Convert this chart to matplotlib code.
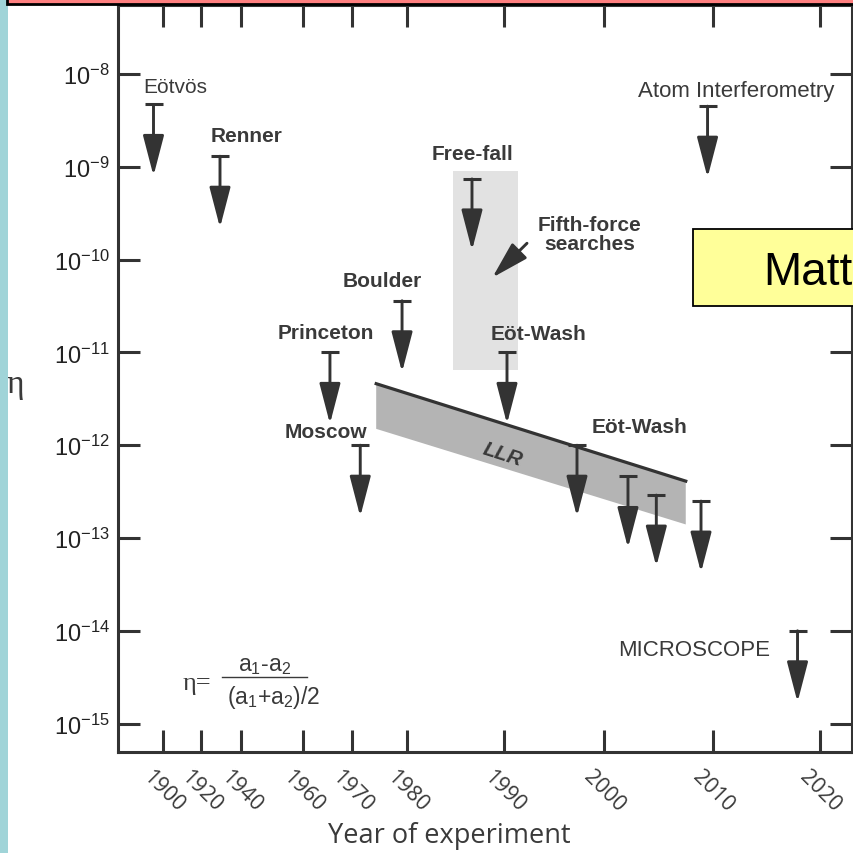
import numpy as np
import matplotlib
matplotlib.use('Agg')
import matplotlib.pyplot as plt
from matplotlib.patches import Rectangle
from matplotlib.lines import Line2D

plt.rcParams['font.family'] = ['Liberation Sans', 'DejaVu Sans']
plt.rcParams['mathtext.fontset'] = 'custom'
plt.rcParams['mathtext.rm'] = 'Liberation Sans'
plt.rcParams['mathtext.it'] = 'Liberation Sans:italic'
plt.rcParams['mathtext.bf'] = 'Liberation Sans:bold'

# tick years on the (non-linear) time axis
tick_years = [1900, 1920, 1940, 1960, 1970, 1980, 1990, 2000, 2010, 2020]
tick_labels = [str(y) for y in tick_years]
eta_ticks = [1e-8, 1e-9, 1e-10, 1e-11, 1e-12, 1e-13, 1e-14, 1e-15]
eta_tick_labels = [r'$\mathregular{10^{-%d}}$' % k for k in range(8, 16)]

# upper limits on eta (arrows)
limit_years = [1895, 1929.5, 1965.5, 1971.5, 1979.1, 1986.7, 1990.3,
               1997.3, 2002.2, 2004.8, 2008.9, 2009.5, 2017.9]
limit_eta = [4.7e-9, 1.3e-9, 1.0e-11, 1.0e-12, 3.6e-11, 7.4e-10, 1.0e-11,
             1.0e-12, 4.6e-13, 2.9e-13, 2.5e-13, 4.5e-9, 1.0e-14]

# lunar laser ranging band
llr_years = [1974.4, 2007.5]
llr_upper = [4.6e-12, 4.1e-13]
llr_lower = [1.5e-12, 1.4e-13]

# free-fall / fifth-force region
ff_years = [1984.7, 1991.4]
ff_eta = [8.9e-10, 6.4e-12]

# experiment names
names = ['Eötvös', 'Renner', 'Princeton', 'Moscow', 'Boulder', 'Free-fall',
         'Fifth-force\nsearches', 'Eöt-Wash', 'Eöt-Wash',
         'Atom Interferometry', 'MICROSCOPE']

# ---- layout helpers ----
W = 854.0
def fx(p):
    return p / W
def fy(p):
    return 1 - p / W

# year -> horizontal position of the printed axis
tick_px = [163, 201, 241, 303, 352, 407, 504, 604, 713, 820]
map_years = [1850] + tick_years + [2050]
map_px = [163 - 50 * 1.9] + tick_px + [820 + 30 * 10.7]

def fwd(y):
    return np.interp(y, map_years, map_px)
def inv(p):
    return np.interp(p, map_px, map_years)

fig = plt.figure(figsize=(8.54, 8.54), dpi=100)
ax = fig.add_axes([fx(118), fy(753), fx(852) - fx(118), fy(6) - fy(753)])
ax.set_xscale('function', functions=(fwd, inv))
ax.set_yscale('log')
ax.set_xlim(inv(118), inv(852))
dec = 92.8
ax.set_ylim(10 ** (-8 - (753 - 75) / dec), 10 ** (-8 + (75 - 6) / dec))

dark = '#333333'
txt = '#3a3a3a'

# free-fall band
ax.fill([ff_years[0], ff_years[1], ff_years[1], ff_years[0]],
        [ff_eta[0], ff_eta[0], ff_eta[1], ff_eta[1]],
        color='#e2e2e2', lw=0, zorder=1)

# LLR band
ax.fill([llr_years[0], llr_years[1], llr_years[1], llr_years[0]],
        [llr_upper[0], llr_upper[1], llr_lower[1], llr_lower[0]],
        color='#b4b4b4', lw=0, zorder=2)
ax.plot(llr_years, llr_upper, color=dark, lw=2.3, zorder=3)

# arrows (upper limits)
drop = 10 ** -0.77
for x, v in zip(limit_years, limit_eta):
    ax.annotate('', xy=(x, v * drop), xytext=(x, v),
                arrowprops=dict(arrowstyle='-|>,head_length=2.5,head_width=0.65',
                                mutation_scale=10, lw=2.1, color=dark,
                                shrinkA=0, shrinkB=0), zorder=4)
ax.plot(limit_years, limit_eta, ls='none', marker='_', ms=13, mew=2.2,
        color=dark, zorder=4)

# fifth-force pointer
ax.annotate('', xy=(1988.8, 6.4e-11), xytext=(1992.3, 1.5e-10),
            arrowprops=dict(arrowstyle='-|>,head_length=2.3,head_width=0.65',
                            mutation_scale=10, lw=2.1, color=dark,
                            shrinkA=0, shrinkB=0), zorder=4)

# labels
bold = dict(color=txt, fontsize=15, fontweight='bold', va='center')
ax.text(1889.5, 7.4e-9, names[0], ha='left', color=txt, fontsize=15, va='center')
ax.text(1925, 2.2e-9, names[1], ha='left', **bold)
ax.text(1964.7, 1.65e-11, names[2], ha='center', **bold)
ax.text(1964.7, 1.4e-12, names[3], ha='center', **bold)
ax.text(1975.5, 5.9e-11, names[4], ha='center', **bold)
ax.text(1986.8, 1.4e-9, names[5], ha='center', **bold)
ax.text(1998.6, 1.9e-10, names[6], ha='center', linespacing=1.0, **bold)
ax.text(1993.4, 1.6e-11, names[7], ha='center', **bold)
ax.text(2003.3, 1.6e-12, names[8], ha='center', **bold)
ax.text(2012.2, 6.6e-9, names[9], ha='center', color=txt, fontsize=16, va='center')
ax.text(2008.3, 6.3e-15, names[10], ha='center', color=txt, fontsize=16, va='center')
ax.text(1989.9, 8.0e-13, 'LLR', ha='center', va='center', rotation=-17.7,
        fontsize=15, fontweight='bold', fontstyle='italic', color=txt, zorder=5)

# axes styling
for s in ax.spines.values():
    s.set_linewidth(2.2)
    s.set_color(dark)
ax.set_xticks(tick_years)
ax.set_xticklabels(tick_labels, rotation=-45, ha='center',
                   fontfamily='Open Sans', fontsize=15.5, color=txt)
ax.set_yticks(eta_ticks)
ax.set_yticklabels(eta_tick_labels, fontsize=17, color='#222222')
ax.yaxis.set_minor_locator(matplotlib.ticker.NullLocator())
ax.xaxis.set_minor_locator(matplotlib.ticker.NullLocator())
ax.tick_params(axis='both', which='major', direction='in', length=16, width=2.2,
               color=dark, top=True, right=True)
ax.tick_params(axis='y', pad=6)
ax.tick_params(axis='x', pad=10)

# formula
fig.text(fx(197), fy(684), 'η=', fontfamily='Liberation Serif', fontsize=19,
         ha='center', va='center', color=txt)
fig.text(fx(265), fy(666), r'a$\mathregular{_1}$-a$\mathregular{_2}$', fontsize=16.5,
         ha='center', va='center', color=txt)
fig.add_artist(Line2D([fx(222), fx(307)], [fy(678), fy(678)], color=txt, lw=1,
                      transform=fig.transFigure))
fig.text(fx(274), fy(698), r'(a$\mathregular{_1}$+a$\mathregular{_2}$)/2', fontsize=16.5,
         ha='center', va='center', color=txt)

# axis titles
fig.text(fx(15), fy(385), 'η', fontfamily='Liberation Serif', fontsize=24,
         ha='center', va='center', color=txt)
fig.text(fx(449), fy(836), 'Year of experiment', fontfamily='Open Sans', fontsize=19.5,
         ha='center', va='center', color=txt)

# slide decorations
fig.add_artist(Rectangle((0, 0), fx(8), 1, transform=fig.transFigure,
                         facecolor='#a0d4d8', edgecolor='none', zorder=10))
fig.add_artist(Rectangle((fx(7), fy(5)), 1.0, 0.05, transform=fig.transFigure,
                         facecolor='#ff8080', edgecolor='black', lw=2, zorder=10))
fig.add_artist(Rectangle((fx(693), fy(307)), 0.5, fx(77), transform=fig.transFigure,
                         facecolor='#ffff99', edgecolor='black', lw=1.3, zorder=10))
fig.text(fx(763), fy(285), 'Matt', fontsize=33, ha='left', va='baseline',
         color='black', zorder=11)

plt.savefig('out.png', dpi=100)
